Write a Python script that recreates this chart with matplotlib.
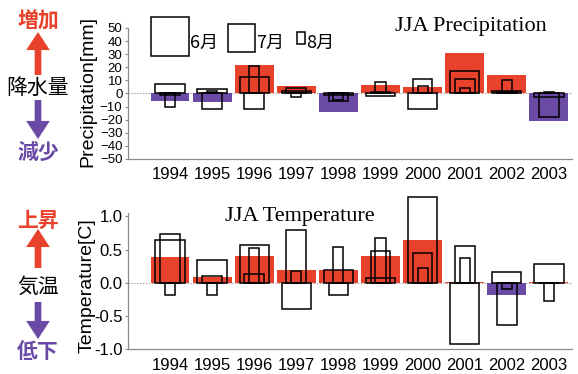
import numpy as np
import matplotlib.pyplot as plt
from matplotlib.patches import Rectangle, FancyArrowPatch

plt.rcParams['font.family'] = ['Liberation Sans', 'Noto Sans CJK JP']

# данные (оценка по картинке)
years = [1994, 1995, 1996, 1997, 1998, 1999, 2000, 2001, 2002, 2003]

prec_jja = [-6, -6.5, 22, 6, -14.5, 6.5, 5, 31, 14, -21]
prec_jun = [7, 3.5, 12.5, 2, -1.5, -2, -12, 17, 2, -2.5]
prec_jul = [-1.5, -12, -11.5, 4.5, -6, 1, 11, 11, 1, -18]
prec_aug = [-10, 2, 21, -2.5, -5, 8.5, 5.5, 4.5, 10, 1]

temp_jja = [0.39, 0.09, 0.41, 0.2, 0.19, 0.41, 0.65, 0.01, -0.19, 0.01]
temp_jun = [0.64, 0.34, 0.57, -0.39, 0.19, 0.07, 1.29, -0.92, 0.16, 0.29]
temp_jul = [0.74, 0.11, 0.13, 0.79, -0.18, 0.48, 0.45, 0.55, -0.64, 0.0]
temp_aug = [-0.19, -0.18, 0.53, 0.18, 0.54, 0.67, 0.22, 0.38, -0.09, -0.27]

RED = '#e8412c'
PURPLE = '#6a4aa5'
GRAY = '#8a8a8a'


def draw_panel(ax, jja, jun, jul, aug):
    colors = [RED if v >= 0 else PURPLE for v in jja]
    ax.bar(years, jja, width=0.92, color=colors, linewidth=0, zorder=2)
    for vals, w in [(jun, 0.70), (jul, 0.47), (aug, 0.24)]:
        ax.bar(years, vals, width=w, facecolor='none', edgecolor='black',
               linewidth=1.1, zorder=3, clip_on=False)
    ax.axhline(0, color=GRAY, lw=0.8, ls=':', zorder=1)
    ax.set_xlim(1993.0, 2003.55)
    ax.set_xticks(years)
    ax.set_xticklabels([str(y) for y in years], fontsize=12)
    ax.tick_params(axis='x', length=0, pad=6)
    ax.tick_params(axis='y', length=2, color=GRAY, pad=2)
    for s in ['top', 'right']:
        ax.spines[s].set_visible(False)
    for s in ['left', 'bottom']:
        ax.spines[s].set_color(GRAY)
        ax.spines[s].set_linewidth(0.9)


fig = plt.figure(figsize=(5.78, 3.74), dpi=100)

# верхний график - осадки
ax1 = fig.add_axes([0.2215, 0.5749, 0.768, 0.3503])
draw_panel(ax1, prec_jja, prec_jun, prec_jul, prec_aug)
ax1.set_ylim(-50, 50)
ax1.set_yticks(np.arange(-50, 51, 10))
ax1.tick_params(axis='y', labelsize=9.5)
ax1.set_ylabel('Precipitation[mm]', fontsize=14)
ax1.yaxis.set_label_coords(-0.072, 0.515)

# нижний график - температура
ax2 = fig.add_axes([0.2215, 0.066, 0.768, 0.3645])
draw_panel(ax2, temp_jja, temp_jun, temp_jul, temp_aug)
ax2.set_ylim(-1.0, 1.05)
ax2.set_yticks([-1.0, -0.5, 0.0, 0.5, 1.0])
ax2.set_yticklabels(['-1.0', '-0.5', '0.0', '0.5', '1.0'])
ax2.tick_params(axis='y', labelsize=12)
ax2.set_ylabel('Temperature[C]', fontsize=14)
ax2.yaxis.set_label_coords(-0.072, 0.47)

# заголовки
fig.text(395 / 578, 1 - 27 / 374, 'JJA Precipitation', family='Liberation Serif',
         fontsize=16, ha='left', va='center')
fig.text(225 / 578, 1 - 216 / 374, 'JJA Temperature', family='Liberation Serif',
         fontsize=16, ha='left', va='center')

# легенда ширины столбиков
H = 374
for (x0, x1, y0, y1, lab) in [(151, 189, 17, 56, '6月'), (228, 255, 24, 52, '7月'),
                              (297, 305, 32, 44, '8月')]:
    fig.add_artist(Rectangle((x0, H - y1), x1 - x0, y1 - y0, facecolor='none',
                             edgecolor='black', lw=1.1, transform=None))
    fig.text((x1 + 1) / 578, 1 - 43 / H, lab, fontsize=13, ha='left', va='center',
             family=['Noto Sans CJK JP'])


# подписи слева со стрелками
def side_label(top_txt, mid_txt, bot_txt, y_top, y_mid, y_bot, arr_up, arr_dn):
    cx = 38
    fig.text(cx / 578, 1 - y_top / H, top_txt, color=RED, fontsize=15, weight='bold',
             ha='center', va='center', family=['Noto Sans CJK JP'])
    fig.text(cx / 578, 1 - y_mid / H, mid_txt, color='black', fontsize=15,
             ha='center', va='center', family=['Noto Sans CJK JP'])
    fig.text(cx / 578, 1 - y_bot / H, bot_txt, color=PURPLE, fontsize=15, weight='bold',
             ha='center', va='center', family=['Noto Sans CJK JP'])
    style = 'simple,head_length=0.65,head_width=0.85,tail_width=0.24'
    fig.add_artist(FancyArrowPatch(
        (cx, H - arr_up[0]), (cx, H - arr_up[1]), arrowstyle=style,
        mutation_scale=20, color=RED, lw=0, shrinkA=0, shrinkB=0, transform=None))
    fig.add_artist(FancyArrowPatch(
        (cx, H - arr_dn[0]), (cx, H - arr_dn[1]), arrowstyle=style,
        mutation_scale=20, color=PURPLE, lw=0, shrinkA=0, shrinkB=0, transform=None))


side_label('増加', '降水量', '減少', 21, 88, 152, (75, 32), (100, 139))
side_label('上昇', '気温', '低下', 220, 287, 352, (268, 229), (302, 339))

fig.savefig('out.png', dpi=100)
